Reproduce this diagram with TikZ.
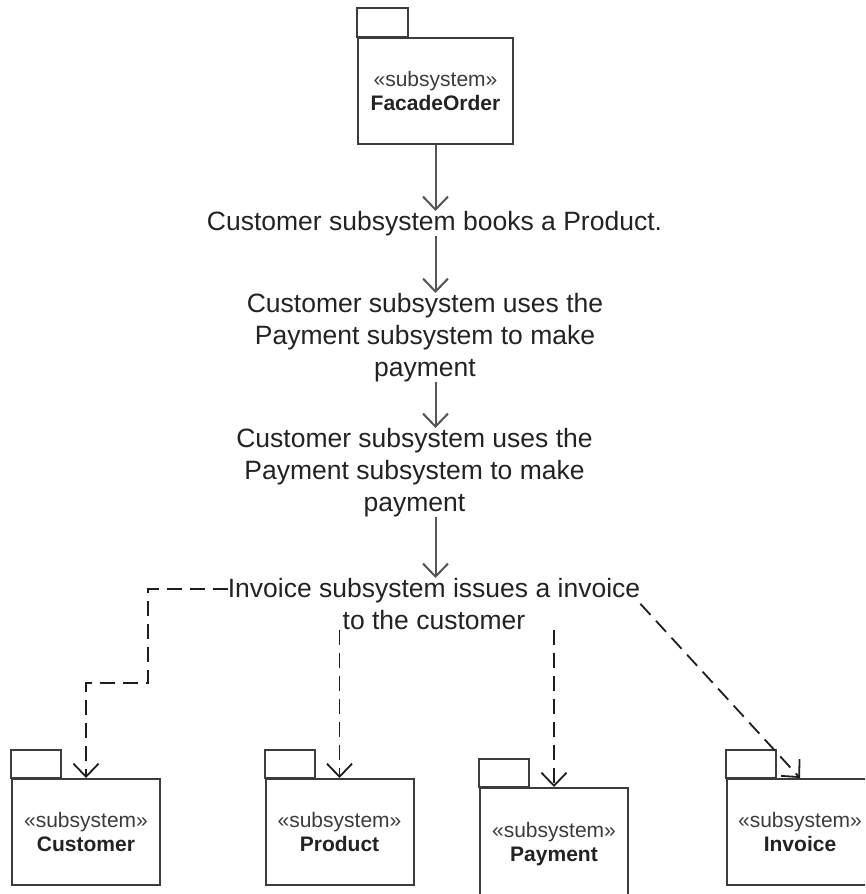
\documentclass[tikz,border=0pt]{standalone}
\usepackage{fontspec}
\setmainfont{Liberation Sans}
\usetikzlibrary{arrows.meta, calc}
\definecolor{pkg-draw}{RGB}{60,60,60}
\definecolor{flow-draw}{RGB}{85,85,85}
\definecolor{dep-draw}{RGB}{30,30,30}
\definecolor{label-text}{RGB}{35,35,35}
\tikzset{
  pkg/.style={draw=pkg-draw, line width=2pt, fill=white, minimum width=148pt, minimum height=106pt, align=center, inner sep=0pt, font=\fontsize{21}{24}\selectfont, text=label-text},
  pkgtab/.style={draw=pkg-draw, line width=2pt},
  note/.style={align=center, inner sep=0pt, anchor=north, font=\fontsize{26.5}{31.8}\selectfont, text=label-text},
  flow/.style={draw=flow-draw, line width=2pt, -{Straight Barb[length=13pt, width=25pt]}},
  dep/.style={draw=dep-draw, line width=1.8pt, dash pattern=on 15pt off 8pt, -{Straight Barb[length=13pt, width=25pt]}}
}
\newcommand{\stereo}[1]{{\color{pkg-draw}«subsystem»}\\\textbf{#1}}

\begin{document}
\begin{tikzpicture}[x=1pt, y=-1pt]
    \useasboundingbox (0,0) rectangle (865,894);
    \clip (0,0) rectangle (865,894);

    % Facade package on top
    \node[pkg, minimum width=155pt] (facade) at (435.5,91) {\stereo{FacadeOrder}};
    \draw[pkgtab] (facade.north west) rectangle ++(51,-29);

    % Subsystem packages along the bottom
    \node[pkg] (customer) at (86,832) {\stereo{Customer}};
    \node[pkg] (product) at (339.5,832) {\stereo{Product}};
    \node[pkg, minimum height=112pt] (payment) at (554,844) {\stereo{Payment}};
    \node[pkg, minimum width=146pt] (invoice) at (800,832) {\stereo{Invoice}};
    \foreach \p in {customer, product, payment, invoice} {
        \draw[pkgtab] (\p.north west) rectangle ++(50,-28);
    }

    % Steps of the sequence
    \node[note] (step1) at (434.5,211) {Customer subsystem books a Product.};
    \node[note] (step2) at (425,293) {Customer subsystem uses the\\Payment subsystem to make\\payment};
    \node[note] (step3) at (414.5,428) {Customer subsystem uses the\\Payment subsystem to make\\payment};
    \node[note] (step4) at (434,578) {Invoice subsystem issues a invoice\\to the customer};

    % Flow from the facade down through the steps
    \draw[flow] (facade.south) -- (facade.south |- step1.north);
    \draw[flow] (facade.south |- step1.south) -- (facade.south |- step2.north);
    \draw[flow] (facade.south |- step2.south) -- (facade.south |- step3.north);
    \draw[flow] (facade.south |- step3.south) -- (facade.south |- step4.north);

    % Dependencies to the subsystems
    \coordinate (custbend) at (148,683);
    \draw[dep] ([yshift=15pt]step4.west) -| (custbend) -| (customer.north);
    \draw[dep] (product.north |- step4.south) -- (product.north);
    \draw[dep] (payment.north |- step4.south) -- (payment.north);
    \draw[dep] (step4.east) -- (invoice.north);
\end{tikzpicture}
\end{document}
